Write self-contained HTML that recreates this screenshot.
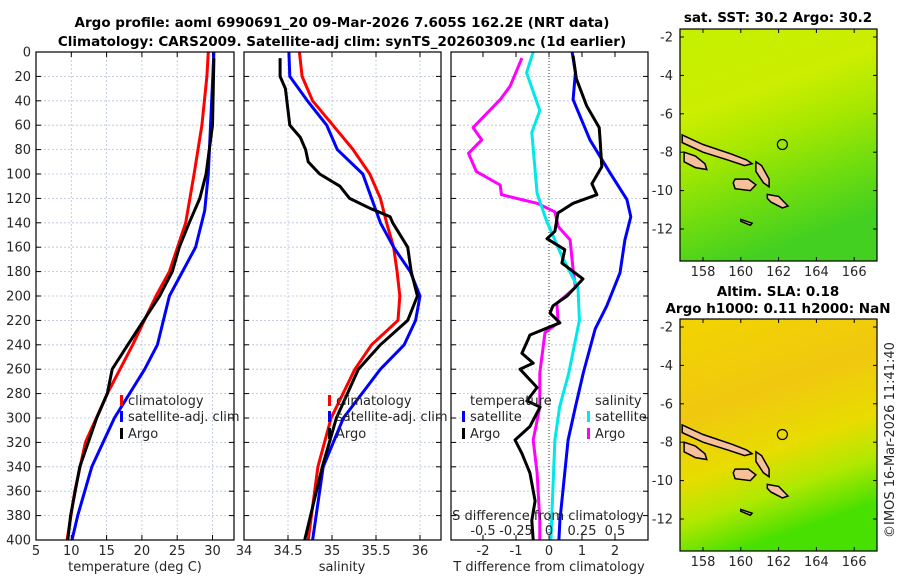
<!DOCTYPE html>
<html><head><meta charset="utf-8"><style>
body{margin:0;background:#fff;}
svg text{font-family:"DejaVu Sans","Liberation Sans",sans-serif;fill:#262626;}
.t{font-size:13px;}
.b{font-weight:bold;font-size:13.5px;fill:#000;}
</style></head><body>
<svg id="fig" width="900" height="580" viewBox="0 0 900 580" xmlns="http://www.w3.org/2000/svg">
<text class="b" x="342" y="27" text-anchor="middle">Argo profile: aoml 6990691_20 09-Mar-2026 7.605S 162.2E (NRT data)</text>
<text class="b" x="342" y="46" text-anchor="middle">Climatology: CARS2009. Satellite-adj clim: synTS_20260309.nc (1d earlier)</text>
<g id="g1"></g><g id="g2"></g><g id="g3"></g><g id="m1"></g><g id="m2"></g>
<text class="b" x="778" y="22" text-anchor="middle">sat. SST: 30.2 Argo: 30.2</text>
<text class="b" x="778" y="296" text-anchor="middle">Altim. SLA: 0.18</text>
<text class="b" x="778" y="313" text-anchor="middle">Argo h1000: 0.11 h2000: NaN</text>
<text class="t" transform="translate(894,440) rotate(-90)" text-anchor="middle">©IMOS 16-Mar-2026 11:41:40</text>
</svg>
<script>
// ---- data ----
const depthTicks=[0,20,40,60,80,100,120,140,160,180,200,220,240,260,280,300,320,340,360,380,400];
const tTicks=[5,10,15,20,25,30];
const sTicks=[34,34.5,35,35.5,36];
const dtTicks=[-2,-1,0,1,2];
const dsTicks=[-0.5,-0.25,0,0.25,0.5];
const dsTickLabels=["-0.5","-0.25","0","0.25","0.5"];
const tClimD=[0,20,60,100,140,180,200,240,280,320,360,400];
const tClim=[29.4,29.2,28.5,27.4,26.2,23.9,22.0,18.7,15.1,12.0,10.5,9.4];
const tSatD=[0,100,130,160,200,240,260,300,340,380,400];
const tSat=[30.2,29.4,28.9,27.6,23.9,22.2,20.4,16.1,12.9,10.9,10.1];
const tArgoD=[5,60,100,120,140,160,180,200,240,260,280,300,340,380,400];
const tArgo=[30.2,30.0,29.1,28.2,26.7,25.3,24.3,22.5,18.0,15.8,15.1,13.6,11.2,9.9,9.5];
const sClimD=[0,20,40,60,80,100,120,140,160,180,200,220,240,260,300,340,400];
const sClim=[34.63,34.66,34.78,35.01,35.24,35.43,35.55,35.62,35.7,35.74,35.77,35.75,35.45,35.26,34.99,34.84,34.73];
const sSatD=[0,20,40,60,80,100,120,140,160,180,200,220,240,260,300,340,400];
const sSat=[34.51,34.52,34.72,34.94,35.06,35.35,35.45,35.55,35.7,35.89,36.0,35.95,35.82,35.55,35.13,34.9,34.78];
const sArgoD=[5,20,30,60,70,80,90,100,110,120,128,135,140,160,180,200,220,240,260,300,340,400];
const sArgo=[34.41,34.41,34.47,34.52,34.64,34.7,34.73,34.86,35.09,35.2,35.43,35.66,35.69,35.86,35.9,35.97,35.86,35.55,35.3,35.05,34.89,34.69];
const dsArgoD=[5,28,39,62,72,83,98,109,117,124,131,143,154,176,193,206,222,230,263,291,318,345,384,400];
const dsArgo=[-0.205,-0.295,-0.37,-0.575,-0.51,-0.61,-0.55,-0.37,-0.36,-0.09,0.045,0.07,0.16,0.18,0.2,0.06,0.07,-0.03,-0.07,-0.07,-0.12,-0.09,-0.07,-0.07];
const dsSatD=[0,17,48,66,116,138,168,193,220,263,291,318,384,400];
const dsSat=[-0.12,-0.17,-0.07,-0.13,-0.09,-0.02,0.1,0.22,0.23,0.15,0.08,0.045,0.02,0.015];
const dtSatD=[0,17,39,72,99,121,135,154,181,208,227,263,291,318,384,400];
const dtSat=[0.7,0.8,0.73,1.24,1.85,2.36,2.48,2.3,2.15,1.75,1.4,1.04,0.8,0.58,0.33,0.3];
const dtArgoD=[3,22,44,62,72,94,108,117,124,132,147,153,162,173,186,200,208,214,222,232,236,247,255,260,275,286,291,307,318,329,345,368,384,400];
const dtArgo=[0.73,0.83,1.14,1.52,1.55,1.6,1.3,1.45,0.73,0.27,0.18,-0.06,0.48,0.39,1.03,0.55,0.12,0.03,0.33,-0.58,-0.64,-0.82,-0.48,-0.88,-0.36,-0.67,-0.27,-0.58,-1.03,-0.82,-0.58,-0.42,-0.52,-0.48];
const lonTicks=[158,160,162,164,166];
const latTicks=[-2,-4,-6,-8,-10,-12];
const argoLon=162.2, argoLat=-7.6;

// ---- helpers ----
const NS="http://www.w3.org/2000/svg";
function mk(tag,attrs,parent,txt){const e=document.createElementNS(NS,tag);for(const k in attrs)e.setAttribute(k,attrs[k]);if(txt!==undefined)e.textContent=txt;parent.appendChild(e);return e;}
const TOP=52,BOT=540;
const yD=d=>TOP+d*(BOT-TOP)/400;

function panel(g,L,R,xs,xticks,xlabs,showY,vgrid){
  for(const d of depthTicks){const y=yD(d);
    const gl=mk('line',{x1:L,x2:R,y1:y,y2:y,stroke:'#b8c0dc','stroke-width':0.8,'stroke-dasharray':'2,2'},g);
    
    mk('line',{x1:L,x2:L+5,y1:y,y2:y,stroke:'#000'},g);mk('line',{x1:R-5,x2:R,y1:y,y2:y,stroke:'#000'},g);
    if(showY){const t=mk('text',{x:L-5,y:y+4.5,'text-anchor':'end',class:'t'},g,String(d));
      }
  }
  xticks.forEach((v,i)=>{const x=xs(v);
    if(vgrid){const gl=mk('line',{x1:x,x2:x,y1:TOP,y2:BOT,stroke:'#b8c0dc','stroke-width':0.8,'stroke-dasharray':'2,2'},g);
      }
    mk('line',{x1:x,x2:x,y1:BOT-5,y2:BOT,stroke:'#000'},g);mk('line',{x1:x,x2:x,y1:TOP,y2:TOP+5,stroke:'#000'},g);
    if(xlabs){const t=mk('text',{x:x,y:BOT+15,'text-anchor':'middle',class:'t'},g,xlabs[i]);
      }
  });
}
function frame(g,L,R,name){const f=mk('rect',{x:L,y:TOP,width:R-L,height:BOT-TOP,fill:'none',stroke:'#000','stroke-width':1.2},g);
  }
function line(g,xs,vals,ds,color,name){
  const pts=vals.map((v,i)=>xs(v).toFixed(1)+','+yD(ds[i]).toFixed(1)).join(' ');
  const p=mk('polyline',{points:pts,fill:'none',stroke:color,'stroke-width':3,'stroke-linejoin':'round'},g);
  
}
function legend(g,x,y,color,label,name){
  const e=mk('g',{},g);
  
  mk('rect',{x:x,y:y-10,width:3,height:11,fill:color},e);
  mk('text',{x:x+8,y:y,class:'t'},e,label);
}

// panel 1 temperature
const g1=document.getElementById('g1');const L1=36,R1=234;
const xT=v=>L1+(v-5)*7.06;
panel(g1,L1,R1,xT,[10,15,20,25,30],null,true,true);
tTicks.forEach(v=>{const t=mk('text',{x:xT(v),y:BOT+15,'text-anchor':'middle',class:'t'},g1,String(v));
  });
line(g1,xT,tClim,tClimD,'#ff0000','temp-climatology-line');
line(g1,xT,tSat,tSatD,'#0000ff','temp-satellite-line');
line(g1,xT,tArgo,tArgoD,'#000','temp-argo-line');
frame(g1,L1,R1,'temperature-axes');
legend(g1,120,405,'#ff0000','climatology','legend-climatology');
legend(g1,120,421,'#0000ff','satellite-adj. clim','legend-satellite');
legend(g1,120,438,'#000','Argo','legend-argo');
mk('text',{x:135,y:571,'text-anchor':'middle',class:'t'},g1,'temperature (deg C)');

// panel 2 salinity
const g2=document.getElementById('g2');const L2=244,R2=441;
const xS=v=>L2+(v-34)*88;
panel(g2,L2,R2,xS,[34.5,35,35.5,36],null,false,true);
sTicks.forEach(v=>{const t=mk('text',{x:xS(v),y:BOT+15,'text-anchor':'middle',class:'t'},g2,String(v));
  });
line(g2,xS,sClim,sClimD,'#ff0000','sal-climatology-line');
line(g2,xS,sSat,sSatD,'#0000ff','sal-satellite-line');
line(g2,xS,sArgo,sArgoD,'#000','sal-argo-line');
frame(g2,L2,R2,'salinity-axes');
legend(g2,328,405,'#ff0000','climatology','legend-climatology-2');
legend(g2,328,421,'#0000ff','satellite-adj. clim','legend-satellite-2');
legend(g2,328,438,'#000','Argo','legend-argo-2');
mk('text',{x:342,y:571,'text-anchor':'middle',class:'t'},g2,'salinity');

// panel 3 differences
const g3=document.getElementById('g3');const L3=451,R3=648;
const xDT=v=>549+v*33;
const xDS=v=>549+v*132;
panel(g3,L3,R3,xDT,dtTicks,dtTicks.map(String),false,false);
const z=mk('line',{x1:549,x2:549,y1:TOP,y2:BOT,stroke:'#333','stroke-dasharray':'1,2'},g3);

line(g3,xDS,dsArgo,dsArgoD,'#ff00ff','dS-argo-line');
line(g3,xDS,dsSat,dsSatD,'#00e8e8','dS-satellite-line');
line(g3,xDT,dtSat,dtSatD,'#0000ff','dT-satellite-line');
line(g3,xDT,dtArgo,dtArgoD,'#000','dT-argo-line');
frame(g3,L3,R3,'difference-axes');
mk('text',{x:470,y:405,class:'t'},g3,'temperature');
legend(g3,462,421,'#0000ff','satellite','legend-dT-satellite');
legend(g3,462,438,'#000','Argo','legend-dT-argo');
mk('text',{x:595,y:405,class:'t'},g3,'salinity');
legend(g3,587,421,'#00e8e8','satellite','legend-dS-satellite');
legend(g3,587,438,'#ff00ff','Argo','legend-dS-argo');
mk('text',{x:548,y:520,'text-anchor':'middle',class:'t'},g3,'S difference from climatology');
dsTicks.forEach((v,i)=>{const t=mk('text',{x:xDS(v),y:535,'text-anchor':'middle',class:'t'},g3,dsTickLabels[i]);
  });
mk('text',{x:549,y:571,'text-anchor':'middle',class:'t'},g3,'T difference from climatology');

// maps
function drawMap(gid,T,B,palette,name){
  const g=document.getElementById(gid);const L=680,R=877;
  const lx=v=>703+(v-158)*18.9;
  const ly=v=>T+8+(-2-v)*19.2;
  const defs=mk('defs',{},g);
  const lg=mk('linearGradient',{id:gid+'grad',x1:0,y1:0,x2:0.3,y2:1},defs);
  palette.forEach(p=>mk('stop',{offset:p[0],'stop-color':p[1]},lg));
  const bg=mk('rect',{x:L,y:T,width:R-L,height:B-T,fill:'url(#'+gid+'grad)'},g);
  
  const isl=[
    [[156.9,-7.1],[158,-7.6],[159.5,-8.1],[160.3,-8.4],[160.6,-8.6],[160.2,-8.7],[159.3,-8.4],[158,-8.0],[156.9,-7.5]],
    [[157,-8.0],[157.6,-8.2],[158.1,-8.6],[158.2,-8.9],[157.6,-8.8],[157,-8.5]],
    [[159.7,-9.4],[160.4,-9.4],[160.8,-9.7],[160.5,-10.0],[159.7,-9.9],[159.6,-9.6]],
    [[160.8,-8.5],[161.1,-8.7],[161.5,-9.4],[161.5,-9.8],[161.2,-9.6],[160.8,-9.0]],
    [[161.4,-10.2],[162.0,-10.3],[162.5,-10.8],[162.2,-10.9],[161.6,-10.6],[161.4,-10.4]],
    [[160.0,-11.5],[160.6,-11.7],[160.5,-11.8],[160,-11.6]]
  ];
  isl.forEach(poly=>{const p=mk('polygon',{points:poly.map(q=>lx(q[0]).toFixed(1)+','+ly(q[1]).toFixed(1)).join(' '),fill:'#f5c09a',stroke:'#000','stroke-width':1.5},g);
    });
  const c=mk('circle',{cx:lx(argoLon),cy:ly(argoLat),r:5,fill:'none',stroke:'#000','stroke-width':1.2},g);
  
  const f=mk('rect',{x:L,y:T,width:R-L,height:B-T,fill:'none',stroke:'#000','stroke-width':1.2},g);
  
  latTicks.forEach(v=>{const y=ly(v);mk('line',{x1:L,x2:L+4,y1:y,y2:y,stroke:'#000'},g);mk('line',{x1:R-4,x2:R,y1:y,y2:y,stroke:'#000'},g);
    const t=mk('text',{x:L-7,y:y+4.5,'text-anchor':'end',class:'t'},g,String(v));
    });
  lonTicks.forEach(v=>{const x=lx(v);mk('line',{x1:x,x2:x,y1:B-4,y2:B,stroke:'#000'},g);mk('line',{x1:x,x2:x,y1:T,y2:T+4,stroke:'#000'},g);
    const t=mk('text',{x:x,y:B+15,'text-anchor':'middle',class:'t'},g,String(v));
    });
}
drawMap('m1',29,261,[[0,'#c4f000'],[0.35,'#ccee00'],[0.55,'#a8e800'],[0.8,'#6cdc10'],[1,'#44d020']],'sst-map');
drawMap('m2',319,551,[[0,'#f2d400'],[0.4,'#f0c810'],[0.65,'#e8dc00'],[0.82,'#b0e800'],[1,'#48e000']],'sla-map');
</script>
</body></html>
